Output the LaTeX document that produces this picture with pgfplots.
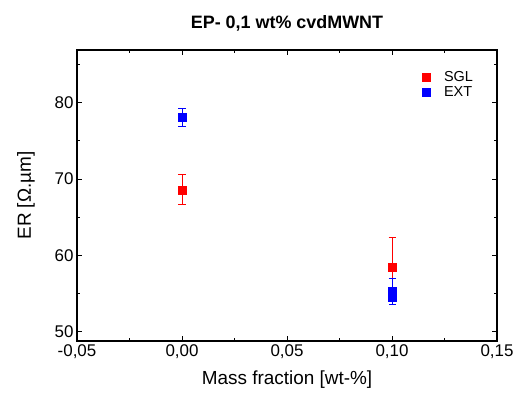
\documentclass[border=0pt]{standalone}
\usepackage{fontspec}
\setmainfont{Liberation Sans}
\usepackage{pgfplots}
\pgfplotsset{compat=1.18}
\begin{document}
\begin{tikzpicture}[x=1bp,y=1bp]
\begin{axis}[
  scale only axis,
  width=420bp, height=291bp,
  xmin=-0.05, xmax=0.15,
  ymin=48.8, ymax=86.9,
  xtick={-0.05,0,0.05,0.1,0.15},
  minor xtick={-0.025,0.025,0.075,0.125},
  ytick={50,60,70,80},
  minor ytick={55,65,75,85},
  tick align=inside,
  major tick length=5bp,
  minor tick length=3bp,
  every tick/.style={black, line width=0.9bp},
  axis line style={line width=1.3bp},
  /pgf/number format/assume math mode=true,
  xticklabel style={/pgf/number format/.cd, use comma, fixed, fixed zerofill, precision=2},
  yticklabel style={/pgf/number format/.cd, fixed, precision=0},
  ticklabel style={font=\fontsize{17}{19}\selectfont},
  xlabel={Mass fraction [wt-\%]},
  ylabel={ER [Ω.µm]},
  label style={font=\fontsize{19}{21}\selectfont},
  xlabel style={yshift=-5bp},
  ylabel style={yshift=13bp},
  title={\textbf{EP- 0,1 wt\% cvdMWNT}},
  title style={font=\fontsize{18}{20}\selectfont, yshift=9bp},
  legend style={draw=none, fill=none, at={(0.955,0.94)}, anchor=north east, font=\fontsize{14.5}{16}\selectfont, row sep=-1bp},
  legend cell align=left,
  legend image code/.code={\draw[#1, mark size=4bp] plot coordinates {(0.1cm,0cm)};\path (0.65cm,0cm);},
]
\addplot[only marks, mark=square*, mark size=4bp, red, mark options={fill=red, draw=red},
  error bars/.cd, y dir=both, y explicit, error mark options={rotate=90, mark size=3.5bp, line width=0.8bp}, error bar style={line width=0.8bp, red}]
  coordinates {(0,68.6) +- (0,1.95) (0.1,58.5) +- (0,3.8)};
\addlegendentry{SGL}
\addplot[only marks, mark=square*, mark size=4bp, blue, mark options={fill=blue, draw=blue},
  error bars/.cd, y dir=both, y explicit, error mark options={rotate=90, mark size=3.5bp, line width=0.8bp}, error bar style={line width=0.8bp, blue}]
  coordinates {(0,78.1) +- (0,1.2) (0.1,55.3) +- (0,1.7) (0.1,54.6) +- (0,1.0)};
\addlegendentry{EXT}
\end{axis}
\path (current axis.south west) ++(-77bp,-55bp) rectangle ++(524bp,396bp);
\end{tikzpicture}
\end{document}
